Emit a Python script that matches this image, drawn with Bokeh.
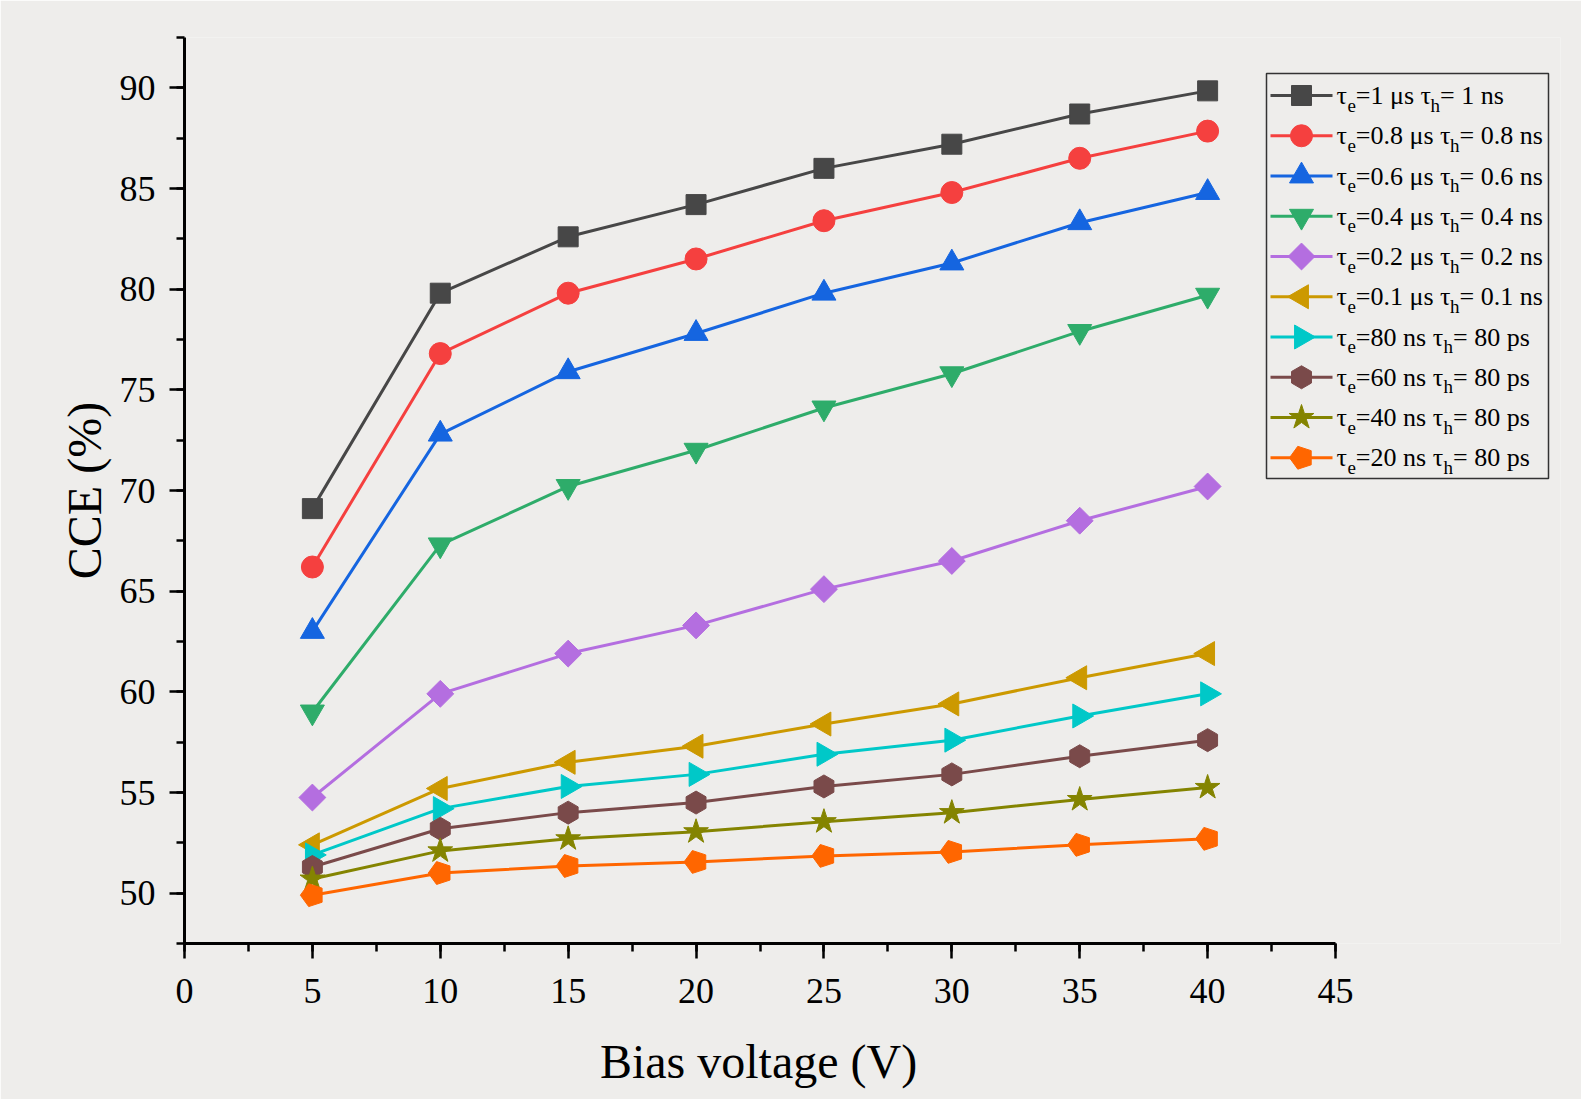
import numpy as np
from bokeh.plotting import figure
from bokeh.models import Range1d, SingleIntervalTicker
from bokeh.core.properties import value
from bokeh.embed import file_html
from bokeh.resources import INLINE

voltage = [5, 10, 15, 20, 25, 30, 35, 40]

tau_e = ["1 μs", "0.8 μs", "0.6 μs", "0.4 μs", "0.2 μs",
         "0.1 μs", "80 ns", "60 ns", "40 ns", "20 ns"]
tau_h = ["1 ns", "0.8 ns", "0.6 ns", "0.4 ns", "0.2 ns",
         "0.1 ns", "80 ps", "80 ps", "80 ps", "80 ps"]

cce_1us = [69.1, 79.8, 82.6, 84.2, 86.0, 87.2, 88.7, 89.85]
cce_08us = [66.2, 76.8, 79.8, 81.5, 83.4, 84.8, 86.5, 87.85]
cce_06us = [63.0, 72.8, 75.9, 77.8, 79.8, 81.3, 83.3, 84.8]
cce_04us = [59.0, 67.3, 70.2, 72.0, 74.1, 75.8, 77.9, 79.7]
cce_02us = [54.75, 59.9, 61.9, 63.3, 65.1, 66.5, 68.5, 70.2]
cce_01us = [52.4, 55.2, 56.5, 57.3, 58.4, 59.4, 60.7, 61.9]
cce_80ns = [51.9, 54.2, 55.3, 55.9, 56.9, 57.6, 58.8, 59.9]
cce_60ns = [51.3, 53.2, 54.0, 54.5, 55.3, 55.9, 56.8, 57.6]
cce_40ns = [50.7, 52.1, 52.7, 53.05, 53.55, 54.0, 54.65, 55.25]
cce_20ns = [49.9, 51.0, 51.35, 51.55, 51.85, 52.05, 52.4, 52.7]

series = [cce_1us, cce_08us, cce_06us, cce_04us, cce_02us,
          cce_01us, cce_80ns, cce_60ns, cce_40ns, cce_20ns]

colors = ["#474747", "#f5403f", "#1565e0", "#2eac6a", "#b46ee0",
          "#cc9900", "#00c8c8", "#7a4a4a", "#848400", "#ff6600"]

# (marker, size, angle)
markers = [
    ("square", 20, 0.0),
    ("circle", 22, 0.0),
    ("triangle", 24, 0.0),
    ("inverted_triangle", 24, 0.0),
    ("square", 19, np.pi / 4),
    ("triangle", 24, np.pi / 2),
    ("triangle", 24, -np.pi / 2),
    ("hex", 23, np.pi / 6),
    ("star", 26, 0.0),
    ("pentagon", 12, 0.0),
]

BG = "#eeedeb"
FONT = "Liberation Serif"

# layout (screen px)
W, H = 1581, 1099
B_LEFT, B_RIGHT, B_TOP, B_BOTTOM = 184, 21, 37, 156
X0, X_AXIS_END = 0.0, 45.0
Y0, Y1 = 47.5, 92.5
PX_PER_X = (1335 - B_LEFT) / (X_AXIS_END - X0)
X1 = X0 + (W - B_LEFT - B_RIGHT) / PX_PER_X
PX_PER_Y = (H - B_TOP - B_BOTTOM) / (Y1 - Y0)


def ux(px):
    return X0 + (px - B_LEFT) / PX_PER_X


def vy(py):
    return Y0 + (H - B_BOTTOM - py) / PX_PER_Y


p = figure(width=W, height=H, output_backend="svg", toolbar_location=None,
           x_range=Range1d(X0, X1), y_range=Range1d(Y0, Y1),
           min_border_left=B_LEFT, min_border_right=B_RIGHT,
           min_border_top=B_TOP, min_border_bottom=B_BOTTOM)
p.background_fill_color = BG
p.border_fill_color = BG
p.outline_line_color = None
p.grid.visible = False

for ax in (p.xaxis[0], p.yaxis[0]):
    ax.axis_line_width = 3
    ax.axis_line_color = "black"
    ax.major_tick_line_width = 2.5
    ax.minor_tick_line_width = 2.5
    ax.major_tick_line_color = "black"
    ax.minor_tick_line_color = "black"
    ax.major_tick_in = 0
    ax.minor_tick_in = 0
    ax.major_tick_out = 15
    ax.minor_tick_out = 8
    ax.major_label_text_font = FONT
    ax.major_label_text_font_size = "36px"
    ax.major_label_text_color = "black"
    ax.axis_label_text_font = FONT
    ax.axis_label_text_font_size = "48px"
    ax.axis_label_text_font_style = "normal"
    ax.axis_label_text_color = "black"

p.xaxis[0].ticker = SingleIntervalTicker(interval=5, num_minor_ticks=2)
p.yaxis[0].ticker = SingleIntervalTicker(interval=5, num_minor_ticks=2)
p.xaxis[0].bounds = (X0, X_AXIS_END)
# the frame is wider than the drawn axis (room for the legend); trailing
# no-break spaces move the centred title back over the 0..45 axis
p.xaxis[0].axis_label = "Bias voltage (V)" + "\u00a0" * 19
p.yaxis[0].axis_label = "CCE (%)"
p.xaxis[0].major_label_standoff = 20
p.xaxis[0].axis_label_standoff = 29
p.yaxis[0].major_label_standoff = 14
p.yaxis[0].axis_label_standoff = 6


def draw_marker(xs, ys, col, mk, sz, ang):
    if mk == "pentagon":
        p.ngon(x=xs, y=ys, radius=sz, radius_units="screen", n=5,
               angle=np.pi / 2, fill_color=col, line_color=col)
    else:
        p.scatter(xs, ys, marker=mk, size=sz, angle=ang,
                  fill_color=col, line_color=col, line_width=1)


for vals, col, (mk, sz, ang) in zip(series, colors, markers):
    p.line(voltage, vals, line_color=col, line_width=3)
    draw_marker(voltage, vals, col, mk, sz, ang)

# legend (drawn by hand so it can overlap the axis end and carry subscripts)
MAIN_PX, SUB_PX = 26, 19
EM = {"τ": 0.42, "μ": 0.5, " ": 0.25, "=": 0.564, ".": 0.25,
      "s": 0.389, "n": 0.5, "p": 0.5, "e": 0.444, "h": 0.5}


def text_width(s, px):
    return sum(EM.get(c, 0.5) for c in s) * px


def piece(x, y, s, px):
    p.text(x=[ux(x)], y=[vy(y)], text=[s], text_font=value(FONT),
           text_font_size=f"{px}px", text_color="black",
           text_baseline="middle", text_align="left")


LEG_L, LEG_R, LEG_T, LEG_B = 1266, 1548, 73, 478
ROW0, ROW_STEP = 95, 40.25
p.quad(left=[ux(LEG_L)], right=[ux(LEG_R)], bottom=[vy(LEG_B)], top=[vy(LEG_T)],
       fill_color=BG, line_color="#333333", line_width=1.5)
for i, (te, th, col, (mk, sz, ang)) in enumerate(zip(tau_e, tau_h, colors, markers)):
    yc = ROW0 + i * ROW_STEP
    p.segment(x0=[ux(1270)], y0=[vy(yc)], x1=[ux(1332)], y1=[vy(yc)],
              line_color=col, line_width=3)
    draw_marker([ux(1301)], [vy(yc)], col, mk, sz, ang)
    ysub = yc + 9.5
    xpos = 1336.0
    for s, is_sub in [("τ", False), ("e", True), ("=" + te + " τ", False),
                      ("h", True), ("= " + th, False)]:
        if is_sub:
            piece(xpos, ysub, s, SUB_PX)
            xpos += text_width(s, SUB_PX)
        else:
            piece(xpos, yc, s, MAIN_PX)
            xpos += text_width(s, MAIN_PX)

open("out.html", "w").write(file_html(p, INLINE))
